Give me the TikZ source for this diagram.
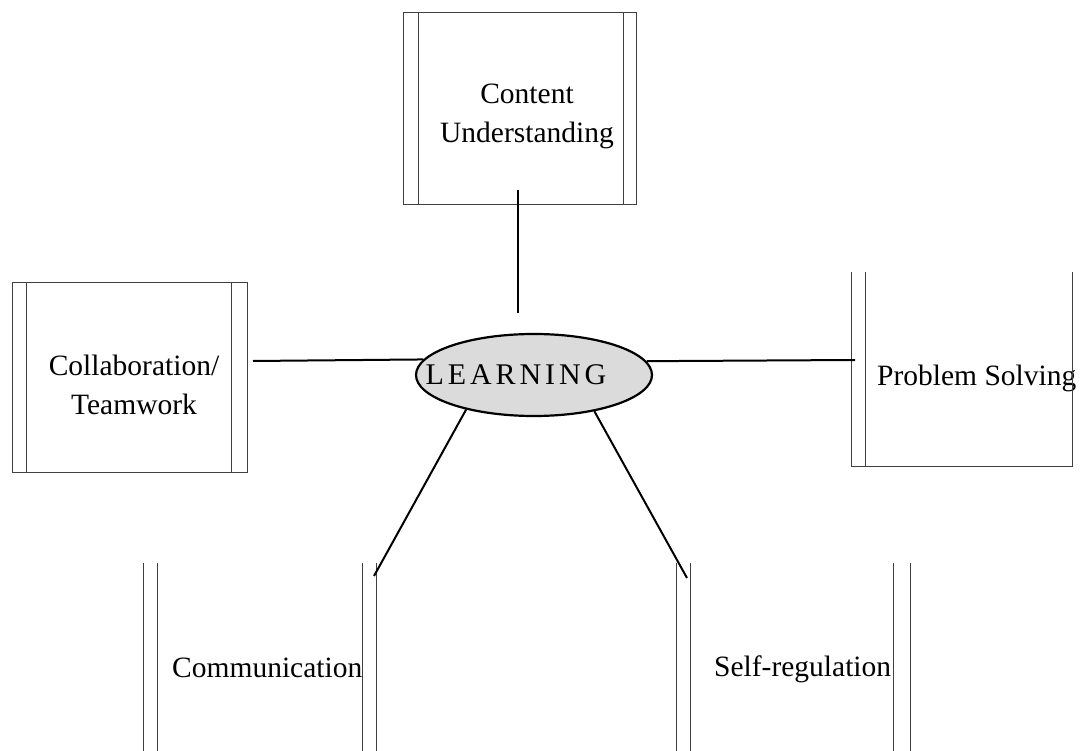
\documentclass[tikz,border=0pt]{standalone}
\usepackage{fontspec}
\setmainfont{Liberation Serif}
\usetikzlibrary{shapes.geometric}
\begin{document}
\begin{tikzpicture}[x=1pt,y=-1pt,
  boxtext/.style={font=\fontsize{29.5}{39}\selectfont, align=center, inner sep=0pt},
  frame/.style={line width=0.9pt, draw=black!75},
  link/.style={line width=2pt, draw=black}]
\useasboundingbox (0,0) rectangle (1080,751);

% Learning ellipse
\node[ellipse, draw, line width=2.2pt, fill=black!14, minimum width=236pt, minimum height=82pt,
      inner sep=0pt] (learn) at (534,375) {};
\node[font=\fontsize{30}{32}\selectfont, inner sep=0pt] (learntext) at (516,375)
      {\addfontfeature{LetterSpace=13}LEARNING};

% Content Understanding
\node[boxtext] (content) at (527,116) {Content\\Understanding};
\draw[frame] (403,12) rectangle (636,204);
\draw[frame] (418,12) -- (418,204);
\draw[frame] (623,12) -- (623,204);

% Collaboration / Teamwork
\node[boxtext] (collab) at (134,385) {Collaboration/\\Teamwork};
\draw[frame] (12,282) rectangle (247,472);
\draw[frame] (26,282) -- (26,472);
\draw[frame] (231,282) -- (231,472);

% Problem Solving
\node[boxtext, anchor=west] (problem) at (877,378) {Problem Solving};
\draw[frame] (851,272) -- (851,466) -- (1072,466) -- (1072,272);
\draw[frame] (865,272) -- (865,466);

% Communication
\node[boxtext, anchor=west] (comm) at (172,668) {Communication};
\draw[frame] (143,563) -- (143,751);
\draw[frame] (157,563) -- (157,751);
\draw[frame] (362,563) -- (362,751);
\draw[frame] (376,563) -- (376,751);

% Self-regulation
\node[boxtext, anchor=west] (self) at (714,669) {Self-regulation};
\draw[frame] (676,563) -- (676,751);
\draw[frame] (690,563) -- (690,751);
\draw[frame] (893,563) -- (893,751);
\draw[frame] (910,563) -- (910,751);

% connector ends
\coordinate (cTop) at (518,190);
\coordinate (cBot) at (518,313);
\coordinate (colE) at (253,361);
\coordinate (probW) at (855,360);
\coordinate (commE) at (374,576);
\coordinate (selfW) at (687,578);

\draw[link] (cTop) -- (cBot);
\draw[link] (colE) -- (learn.172.8);
\draw[link] (learn.7.5) -- (probW);
\draw[link] (learn.207.9) -- (commE);
\draw[link] (learn.-31.1) -- (selfW);
\end{tikzpicture}
\end{document}
